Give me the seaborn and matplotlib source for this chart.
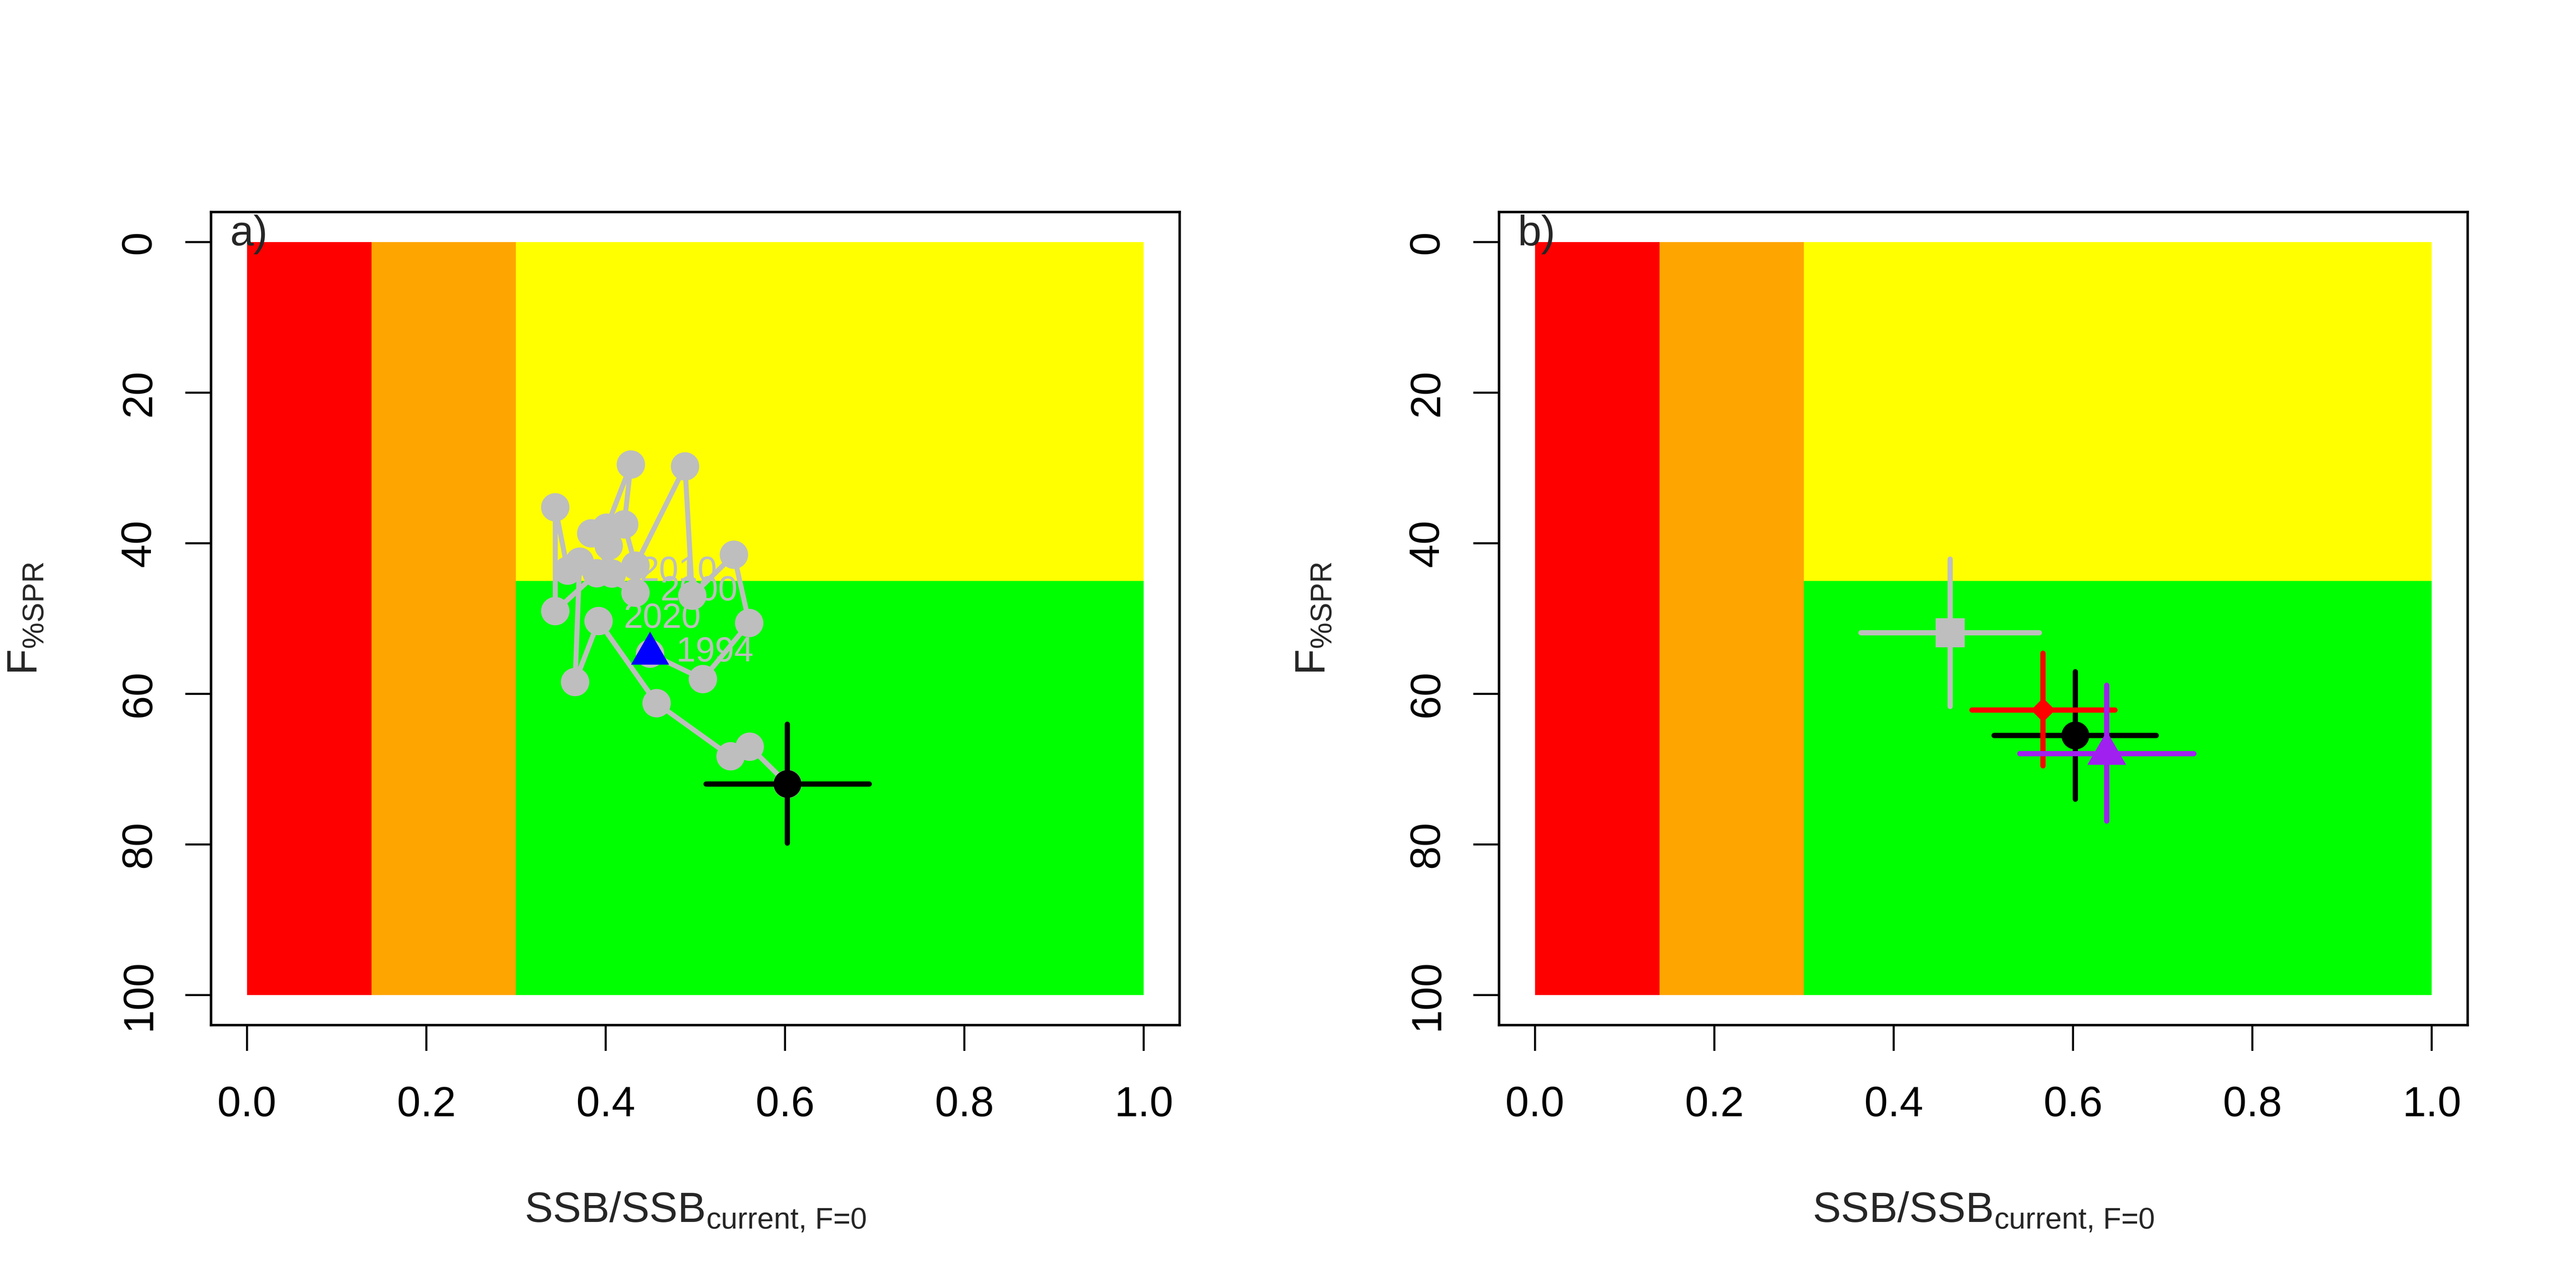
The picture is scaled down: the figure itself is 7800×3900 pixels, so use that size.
import numpy as np
import pandas as pd
import matplotlib
matplotlib.use('Agg')
import matplotlib.pyplot as plt
from matplotlib.markers import MarkerStyle
from matplotlib.path import Path
import seaborn as sns

# Zone limits (SSB ratio breaks and F%SPR limit)
zone_x = [0.0, 0.139, 0.3, 1.0]
f_limit = 45
f_max = 100

# Panel a: historical trajectory (SSB/SSB_current,F=0 vs F%SPR)
traj_ssb = [0.6027, 0.5606, 0.5393, 0.4568, 0.3921, 0.3659, 0.3710, 0.3577,
            0.3438, 0.3438, 0.3901, 0.4332, 0.4071, 0.3839, 0.4034, 0.4009,
            0.4281, 0.4207, 0.4332, 0.4885, 0.4966, 0.5430, 0.5600, 0.5084,
            0.4495]
traj_f = [71.97, 67.02, 68.29, 61.24, 50.33, 58.43, 42.44, 43.63,
          35.22, 49.01, 43.98, 46.56, 44.02, 38.68, 40.34, 37.93,
          29.54, 37.49, 42.97, 29.79, 46.96, 41.52, 50.59, 58.04,
          54.66]
year_labels = ['2010', '2000', '2020', '1994']
year_lab_x = [0.4812, 0.5043, 0.4632, 0.5217]
year_lab_y = [43.8, 46.36, 50.0, 54.5]

last_ssb, last_f = 0.4495, 54.66
cur_ssb, cur_f = 0.6027, 71.97
cur_ssb_ci = [0.5121, 0.6940]
cur_f_ci = [64.04, 79.85]

# Panel b: alternative estimates with intervals
b_ssb = [0.4629, 0.6026, 0.5666, 0.6376]
b_f = [51.89, 65.53, 62.15, 67.94]
b_ssb_lo = [0.3635, 0.5121, 0.4874, 0.5408]
b_ssb_hi = [0.5624, 0.6929, 0.6469, 0.7349]
b_f_lo = [42.09, 57.07, 54.62, 58.87]
b_f_hi = [61.67, 73.98, 69.56, 76.87]
b_colors = ['#BEBEBE', '#000000', '#FF0000', '#A020F0']

sns.set_theme(style='ticks')
plt.rcParams['font.family'] = ['Liberation Sans', 'DejaVu Sans']
plt.rcParams['mathtext.fontset'] = 'custom'
plt.rcParams['mathtext.rm'] = 'Liberation Sans'
plt.rcParams['mathtext.it'] = 'Liberation Sans:italic'

FS = 15.4
GRAY = '#BEBEBE'
tri = MarkerStyle(Path([(-1, -0.577), (1, -0.577), (0, 1.155), (-1, -0.577)],
                       [Path.MOVETO, Path.LINETO, Path.LINETO, Path.CLOSEPOLY]))


def draw_zones(ax):
    ax.fill_between([zone_x[0], zone_x[1]], 0, f_max, color='#FF0000', lw=0, zorder=0)
    ax.fill_between([zone_x[1], zone_x[2]], 0, f_max, color='#FFA500', lw=0, zorder=0)
    ax.fill_between([zone_x[2], zone_x[3]], 0, f_limit, color='#FFFF00', lw=0, zorder=0)
    ax.fill_between([zone_x[2], zone_x[3]], f_limit, f_max, color='#00FF00', lw=0, zorder=0)


def style_axes(ax, tag):
    ax.set_xlim(-0.04, 1.04)
    ax.set_ylim(104, -4)
    xt = [0, 0.2, 0.4, 0.6, 0.8, 1.0]
    ax.set_xticks(xt)
    ax.set_xticklabels([f'{v:.1f}' for v in xt])
    yt = [0, 20, 40, 60, 80, 100]
    ax.set_yticks(yt)
    ax.set_yticklabels([str(v) for v in yt], rotation=90, va='center')
    ax.tick_params(axis='both', length=9.4, width=0.75, colors='black',
                   labelsize=FS, direction='out')
    ax.tick_params(axis='x', pad=12.5)
    ax.tick_params(axis='y', pad=9.4)
    for s in ax.spines.values():
        s.set_visible(True)
        s.set_color('black')
        s.set_linewidth(0.9)
    ax.set_xlabel('')
    ax.set_ylabel('')
    ax.text(0.5, -0.242, r'SSB/SSB$_{\text{current, F=0}}$', transform=ax.transAxes,
            ha='center', va='baseline', fontsize=FS)
    ax.text(-0.1906, 0.5, r'F$_{\text{%SPR}}$', transform=ax.transAxes,
            rotation=90, ha='center', va='center', fontsize=FS)
    ax.text(-0.019, -1.0, tag, ha='left', va='center', fontsize=FS, zorder=10)


def cross(ax, x, y, xlo, xhi, ylo, yhi, color, z):
    ax.hlines(y, xlo, xhi, colors=color, linewidth=1.9, capstyle='round', zorder=z)
    ax.vlines(x, ylo, yhi, colors=color, linewidth=1.9, capstyle='round', zorder=z)


fig = plt.figure(figsize=(13, 6.5), dpi=600)
ax_a = fig.add_axes([0.08192, 0.20410, 0.37603, 0.63128])
ax_b = fig.add_axes([0.58192, 0.20410, 0.37603, 0.63128])

# a) trajectory
draw_zones(ax_a)
traj = pd.DataFrame({'ssb': traj_ssb, 'f': traj_f})
sns.lineplot(data=traj, x='ssb', y='f', sort=False, estimator=None, color=GRAY,
             linewidth=1.8, ax=ax_a, zorder=2)
sns.scatterplot(data=traj, x='ssb', y='f', color=GRAY, s=10.3 ** 2, linewidth=0,
                edgecolor='none', ax=ax_a, zorder=3)
for lab, lx, ly in zip(year_labels, year_lab_x, year_lab_y):
    ax_a.text(lx, ly, lab, color=GRAY, fontsize=12.6, ha='center', va='center', zorder=4)
sns.scatterplot(x=[last_ssb], y=[last_f], marker=tri, color='#0000FF', s=16.0 ** 2,
                linewidth=0, edgecolor='none', ax=ax_a, zorder=5)
cross(ax_a, cur_ssb, cur_f, cur_ssb_ci[0], cur_ssb_ci[1], cur_f_ci[0], cur_f_ci[1], 'black', 6)
sns.scatterplot(x=[cur_ssb], y=[cur_f], color='black', s=10.1 ** 2, linewidth=0,
                edgecolor='none', ax=ax_a, zorder=7)
style_axes(ax_a, 'a)')

# b) alternative estimates
draw_zones(ax_b)
b_markers = ['s', 'o', 'D', tri]
b_sizes = [10.56, 10.1, 6.2, 16.3]
for i in range(len(b_ssb)):
    z = 3 + 2 * i
    cross(ax_b, b_ssb[i], b_f[i], b_ssb_lo[i], b_ssb_hi[i], b_f_lo[i], b_f_hi[i], b_colors[i], z)
    sns.scatterplot(x=[b_ssb[i]], y=[b_f[i]], marker=b_markers[i], color=b_colors[i],
                    s=b_sizes[i] ** 2, linewidth=0, edgecolor='none', ax=ax_b, zorder=z + 1)
style_axes(ax_b, 'b)')

fig.savefig('out.png', dpi=600, facecolor='white')
